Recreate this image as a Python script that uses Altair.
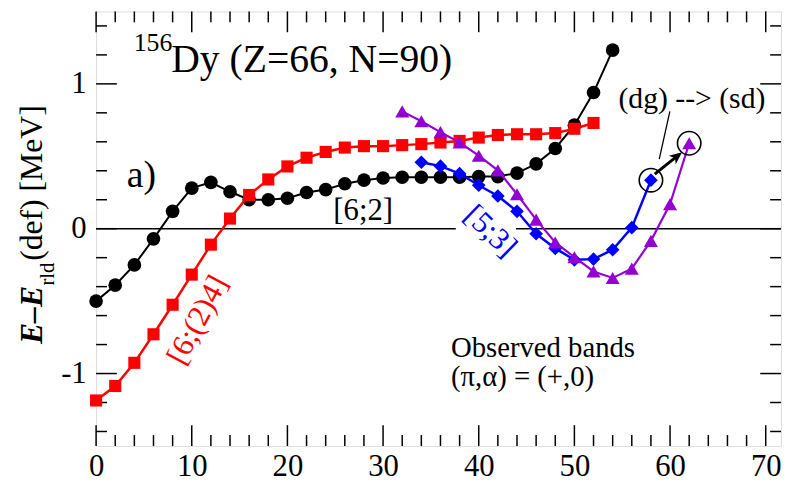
import altair as alt
import pandas as pd

# ---------------- data ----------------
spin_62 = list(range(0, 56, 2))
e_62 = [-0.50, -0.39, -0.25, -0.07, 0.12, 0.28, 0.32, 0.255, 0.20, 0.20, 0.21, 0.25,
        0.27, 0.31, 0.335, 0.35, 0.355, 0.355, 0.355, 0.355, 0.36, 0.36, 0.384, 0.448,
        0.554, 0.715, 0.94, 1.233]

spin_624 = list(range(0, 54, 2))
e_624 = [-1.186, -1.086, -0.926, -0.729, -0.525, -0.317, -0.11, 0.07, 0.233, 0.34, 0.43,
         0.49, 0.53, 0.56, 0.57, 0.57, 0.577, 0.584, 0.595, 0.606, 0.629, 0.647, 0.652,
         0.652, 0.66, 0.69, 0.73]

spin_53 = list(range(34, 60, 2))
e_53 = [0.459, 0.432, 0.38, 0.30, 0.226, 0.12, -0.035, -0.136, -0.215, -0.21, -0.145,
        0.007, 0.335]

spin_obs = list(range(32, 64, 2))
e_obs = [0.81, 0.742, 0.667, 0.595, 0.504, 0.403, 0.238, 0.063, -0.095, -0.197, -0.295,
         -0.34, -0.276, -0.084, 0.17, 0.59]

x_major = [0, 10, 20, 30, 40, 50, 60, 70]
x_minor = [v for v in range(2, 72, 2) if v % 10 != 0]
y_major = [-1, 0, 1]
y_minor = [-1.4, -1.2, -0.8, -0.6, -0.4, -0.2, 0.2, 0.4, 0.6, 0.8, 1.2, 1.4]

circled_x = [58, 62]
circled_y = [0.335, 0.59]

W, H = 692, 439
FONT = "'Liberation Serif', Tinos, 'Times New Roman', Times, 'DejaVu Serif', serif"

xscale = alt.Scale(domain=[0, 71.6], nice=False, zero=False)
yscale = alt.Scale(domain=[-1.5, 1.5], nice=False, zero=False)
xaxis = alt.Axis(values=x_major, ticks=False, domain=False, grid=False, title=None,
                 labelFont=FONT, labelFontSize=31, labelPadding=6, labelFlush=False,
                 labelOverlap=False, labelColor="black")
yaxis = alt.Axis(values=y_major, ticks=False, domain=False, grid=False, title=None,
                 labelFont=FONT, labelFontSize=31, labelPadding=10, labelFlush=False,
                 labelOverlap=False, labelColor="black",
                 labelExpr="datum.value < 0 ? '-' + abs(datum.value) : '' + datum.value")


def X(f):
    return alt.X(f, type="quantitative", scale=xscale, axis=xaxis)


def Y(f):
    return alt.Y(f, type="quantitative", scale=yscale, axis=yaxis)


# zero line (interrupted behind the [5;3] label)
zero_df = pd.DataFrame({"x": [0, 43.9], "x2": [37.6, 71.6], "y": [0, 0]})
zero = alt.Chart(zero_df).mark_rule(color="black", strokeWidth=1.5).encode(
    x=X("x"), x2="x2", y=Y("y"))

# inward ticks on all four sides
def xticks(vals, length):
    d = pd.DataFrame({"v": vals})
    b = alt.Chart(d).mark_rule(color="black", strokeWidth=1.5).encode(
        x=X("v"), y=alt.value(H), y2=alt.value(H - length))
    t = alt.Chart(d).mark_rule(color="black", strokeWidth=1.5).encode(
        x=X("v"), y=alt.value(0), y2=alt.value(length))
    return [b, t]


def yticks(vals, length):
    d = pd.DataFrame({"v": vals})
    l = alt.Chart(d).mark_rule(color="black", strokeWidth=1.5).encode(
        y=Y("v"), x=alt.value(0), x2=alt.value(length))
    r = alt.Chart(d).mark_rule(color="black", strokeWidth=1.5).encode(
        y=Y("v"), x=alt.value(W), x2=alt.value(W - length))
    return [l, r]


ticks = xticks(x_major, 21) + xticks(x_minor, 11) + yticks(y_major, 21) + yticks(y_minor, 11)


def series(xs, ys, color, shape, size, sw):
    d = pd.DataFrame({"I": xs, "E": ys})
    line = alt.Chart(d).mark_line(color=color, strokeWidth=sw).encode(x=X("I"), y=Y("E"))
    pts = alt.Chart(d).mark_point(color=color, filled=True, opacity=1, shape=shape,
                                  size=size).encode(x=X("I"), y=Y("E"))
    return [line, pts]


layers = [zero] + ticks
layers += series(spin_62, e_62, "black", "circle", 190, 2)
layers += series(spin_624, e_624, "#ff0000", "square", 150, 2.5)
layers += series(spin_53, e_53, "#0000ff", "diamond", 190, 2.5)
layers += series(spin_obs, e_obs, "#9400d3", "triangle-up", 200, 2.2)

# open circles around the two marked states
circ = alt.Chart(pd.DataFrame({"x": circled_x, "y": circled_y})).mark_point(
    shape="circle", filled=False, color="black", strokeWidth=1.6, size=560, opacity=1
).encode(x=X("x"), y=Y("y"))
layers.append(circ)

# arrow (dg) -> (sd)
arrow_df = pd.DataFrame({"x": [58.4], "y": [0.377], "x2": [60.9], "y2": [0.51]})
layers.append(alt.Chart(arrow_df).mark_rule(color="black", strokeWidth=3).encode(
    x=X("x"), y=Y("y"), x2="x2", y2="y2"))
head_df = pd.DataFrame({"x": [61.25], "y": [0.528]})
layers.append(alt.Chart(head_df).mark_point(
    shape="M0,0L0.75,1.7L0,1.25L-0.75,1.7Z", filled=True, color="black", opacity=1,
    size=220, angle=51).encode(x=X("x"), y=Y("y")))
# pointer line from label
ptr_df = pd.DataFrame({"x": [59.98], "y": [0.81], "x2": [58.87], "y2": [0.48]})
layers.append(alt.Chart(ptr_df).mark_rule(color="black", strokeWidth=1.3).encode(
    x=X("x"), y=Y("y"), x2="x2", y2="y2"))


def label(txt, x, y, size, color="black", angle=0, align="left", baseline="alphabetic"):
    d = pd.DataFrame({"x": [x], "y": [y], "t": [txt]})
    return alt.Chart(d).mark_text(font=FONT, fontSize=size, color=color, angle=angle,
                                  align=align, baseline=baseline).encode(
        x=X("x"), y=Y("y"), text="t:N")


layers.append(label("Dy (Z=66, N=90)", 7.86, 1.083, 40))
layers.append(label("156", 3.93, 1.23, 26))
layers.append(label("a)", 3.2, 0.29, 38))
layers.append(label("[6;2]", 24.8, 0.058, 31))
layers.append(label("[6;(2)4]", 10.66, -0.632, 31, color="#ff0000", angle=298,
                    align="center", baseline="middle"))
layers.append(label("[5;3]", 41.2, -0.02, 31, color="#0000ff", angle=44,
                    align="center", baseline="middle"))
layers.append(label("(dg) --> (sd)", 54.6, 0.833, 30))
layers.append(label("Observed bands", 37.1, -0.885, 29))
layers.append(label("(π,α) = (+,0)", 37.1, -1.085, 29))

# y-axis title: E–E_rld(def) [MeV] (rotated)
def ytitle(txt, px, py, size, weight="normal", style="normal"):
    d = pd.DataFrame({"t": [txt]})
    return alt.Chart(d).mark_text(font=FONT, fontSize=size, fontWeight=weight,
                                  fontStyle=style, angle=270, align="left",
                                  baseline="alphabetic", color="black").encode(
        x=alt.value(px), y=alt.value(py), text="t:N")


layers.append(ytitle("E–E", -55, 336, 32, weight="bold", style="italic"))
layers.append(ytitle("rld", -43, 277, 21))
layers.append(ytitle("(def) [MeV]", -55, 252, 32))

chart = alt.layer(*layers).properties(
    width=W, height=H,
    padding={"left": 89, "top": 1, "right": 2, "bottom": 40},
    autosize=alt.AutoSizeParams(type="none"),
).configure_view(stroke="black", strokeWidth=2).configure(background="white")

chart.save("out.html", embed_options={"renderer": "svg", "actions": False})
